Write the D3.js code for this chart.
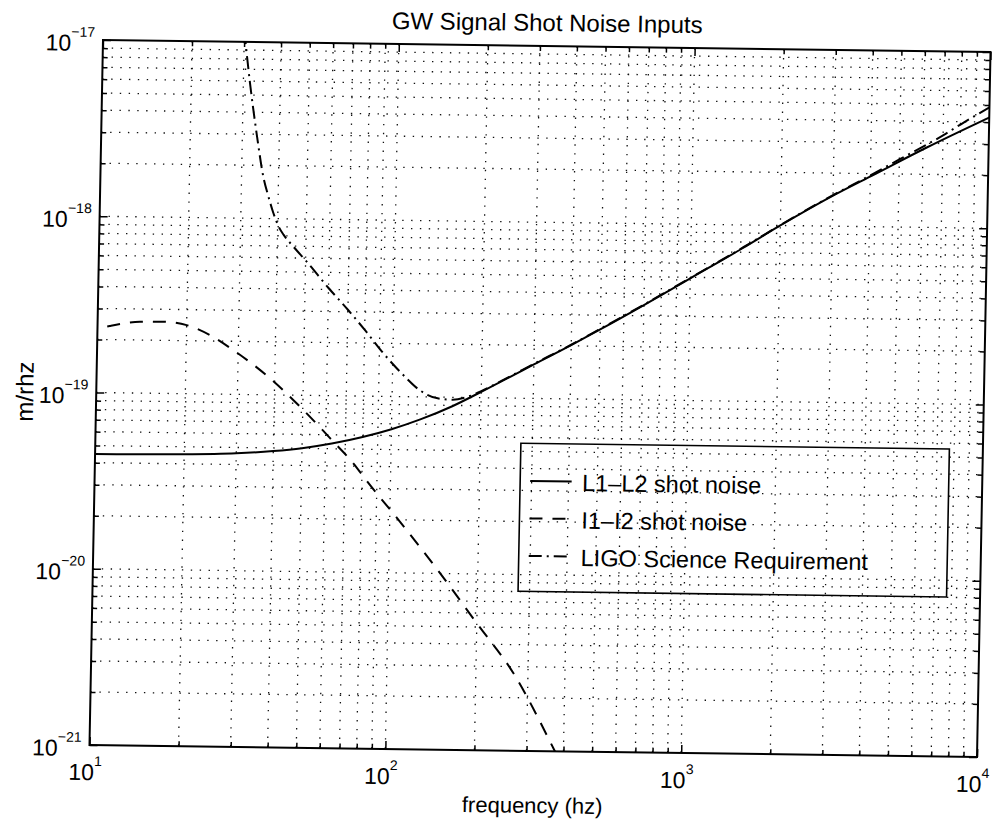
<!DOCTYPE html>
<html>
<head>
<meta charset="utf-8">
<title>GW Signal Shot Noise Inputs</title>
<script src="https://cdn.jsdelivr.net/npm/d3@7"></script>
<style>
  html, body { margin: 0; padding: 0; background: #fff; }
  svg text { font-family: "Liberation Sans", Arial, Helvetica, sans-serif; fill: #000; }
</style>
</head>
<body>
<svg id="chart" width="994" height="826"></svg>
<script>
// ---- data -------------------------------------------------------------
// L1-L2 shot noise (m/rHz) vs frequency (Hz)
const freqL1L2 = [10, 20, 30, 40, 50, 63, 80, 100, 125, 160, 200, 250, 300, 400, 500, 700, 1000, 1500, 2000, 3000, 4100, 6200, 10000];
const shotL1L2 = [4.48e-20, 4.53e-20, 4.63e-20, 4.80e-20, 5.01e-20, 5.35e-20, 5.86e-20, 6.52e-20, 7.45e-20, 8.9e-20,
                  1.08e-19, 1.32e-19, 1.56e-19, 2.02e-19, 2.49e-19, 3.45e-19, 4.93e-19, 7.4e-19, 1.0e-18, 1.49e-18,
                  1.97e-18, 2.85e-18, 4.25e-18];

// I1-I2 shot noise
const freqI1I2 = [10, 11, 13.9, 16.7, 20, 24, 28.9, 38.6, 50.2, 63.8, 74.7, 83.2, 108.4, 149.3, 200, 268, 375, 400];
const shotI1I2 = [2.30e-19, 2.39e-19, 2.54e-19, 2.55e-19, 2.45e-19, 2.16e-19, 1.78e-19, 1.24e-19, 8.26e-20, 5.48e-20,
                  4.15e-20, 3.3e-20, 1.95e-20, 1.0e-20, 5.25e-21, 2.75e-21, 9.95e-22, 8.1e-22];

// LIGO science requirement
const freqReq = [30, 31.6, 33.6, 35.6, 37, 38.6, 40.5, 42, 45.4, 51, 60, 70, 81, 93, 107.6, 124, 142.6, 160, 177, 200,
                 250, 300, 400, 500, 700, 1000, 1500, 2000, 3000, 4100, 5000, 6200, 7000, 8200, 10000];
const ligoReq = [1.15e-17, 5.83e-18, 2.95e-18, 1.7e-18, 1.35e-18, 1.08e-18, 8.9e-19, 8.1e-19, 6.95e-19, 5.61e-19,
                 4.08e-19, 3.08e-19, 2.32e-19, 1.75e-19, 1.35e-19, 1.09e-19, 9.84e-20, 9.69e-20, 1.0e-19, 1.09e-19,
                 1.33e-19, 1.57e-19, 2.03e-19, 2.51e-19, 3.47e-19, 4.96e-19, 7.45e-19, 1.005e-18, 1.5e-18, 2.0e-18,
                 2.42e-18, 2.96e-18, 3.34e-18, 3.96e-18, 4.85e-18];

// axis decades (exponents) and labels
const xTickExps = [1, 2, 3, 4];
const yTickExps = [-17, -18, -19, -20, -21];
const legendLabels = ["L1\u2013L2 shot noise", "I1\u2013I2 shot noise", "LIGO Science Requirement"];

// ---- layout -----------------------------------------------------------
const plotLeft = 103, plotTop = 40, plotW = 887.5, plotH = 705;
const svg = d3.select("#chart");

// the printed page sits slightly skewed on the sheet
const page = svg.append("g")
  .attr("transform", "matrix(1,0.01352,-0.01915,1,0.766,-1.393)");

const x = d3.scaleLog().domain([1e1, 1e4]).range([plotLeft, plotLeft + plotW]);
const y = d3.scaleLog().domain([1e-21, 1e-17]).range([plotTop + plotH, plotTop]);

const allX = x.ticks();            // 10,20,...,90,100,...,10000
const allY = y.ticks();
const isPow10 = v => Math.abs(Math.log10(v) - Math.round(Math.log10(v))) < 1e-9;
const majorX = allX.filter(isPow10), minorX = allX.filter(v => !isPow10(v));
const majorY = allY.filter(isPow10), minorY = allY.filter(v => !isPow10(v));

// ---- grid -------------------------------------------------------------
const grid = page.append("g")
  .attr("stroke", "#111").attr("stroke-width", 1.3)
  .attr("stroke-dasharray", "1.4,7.5").attr("fill", "none");

grid.selectAll("line.gx").data(allX.filter(v => v > 10 * 1.0001 && v < 1e4 * 0.9999)).join("line")
  .attr("class", "gx")
  .attr("x1", d => x(d)).attr("x2", d => x(d))
  .attr("y1", plotTop).attr("y2", plotTop + plotH);

grid.selectAll("line.gy").data(allY.filter(v => v > 1e-21 * 1.0001 && v < 1e-17 * 0.9999)).join("line")
  .attr("class", "gy")
  .attr("y1", d => y(d)).attr("y2", d => y(d))
  .attr("x1", plotLeft).attr("x2", plotLeft + plotW);

// ---- ticks (inward, all four sides) -----------------------------------
function tickLayer(axis, tx, ty) {
  const gAx = page.append("g").attr("transform", `translate(${tx},${ty})`).call(axis);
  gAx.select(".domain").remove();
  gAx.selectAll(".tick line").attr("stroke", "#000").attr("stroke-width", 1.5);
}
const majLen = 8, minLen = 5;
tickLayer(d3.axisBottom(x).tickValues(majorX).tickSize(-majLen).tickFormat(""), 0, plotTop + plotH);
tickLayer(d3.axisBottom(x).tickValues(minorX).tickSize(-minLen).tickFormat(""), 0, plotTop + plotH);
tickLayer(d3.axisTop(x).tickValues(majorX).tickSize(-majLen).tickFormat(""), 0, plotTop);
tickLayer(d3.axisTop(x).tickValues(minorX).tickSize(-minLen).tickFormat(""), 0, plotTop);
tickLayer(d3.axisLeft(y).tickValues(majorY).tickSize(-majLen).tickFormat(""), plotLeft, 0);
tickLayer(d3.axisLeft(y).tickValues(minorY).tickSize(-minLen).tickFormat(""), plotLeft, 0);
tickLayer(d3.axisRight(y).tickValues(majorY).tickSize(-majLen).tickFormat(""), plotLeft + plotW, 0);
tickLayer(d3.axisRight(y).tickValues(minorY).tickSize(-minLen).tickFormat(""), plotLeft + plotW, 0);

// ---- curves -----------------------------------------------------------
page.append("clipPath").attr("id", "plotClip")
  .append("rect").attr("x", plotLeft).attr("y", plotTop).attr("width", plotW).attr("height", plotH);

const line = d3.line().x(d => x(d[0])).y(d => y(d[1])).curve(d3.curveMonotoneX);
const zip = (fs, vs) => fs.map((f, i) => [f, vs[i]]);

const styles = [
  { data: zip(freqL1L2, shotL1L2), dash: null, offset: 0 },
  { data: zip(freqI1I2, shotI1I2), dash: "13,10", offset: 13 },
  { data: zip(freqReq, ligoReq), dash: "13,5,2,5", offset: 0 }
];

const curves = page.append("g").attr("clip-path", "url(#plotClip)");
styles.forEach(s => {
  curves.append("path").datum(s.data)
    .attr("d", line)
    .attr("fill", "none").attr("stroke", "#000").attr("stroke-width", 2)
    .attr("stroke-dasharray", s.dash).attr("stroke-dashoffset", s.offset);
});

// ---- frame ------------------------------------------------------------
page.append("rect")
  .attr("x", plotLeft).attr("y", plotTop).attr("width", plotW).attr("height", plotH)
  .attr("fill", "none").attr("stroke", "#000").attr("stroke-width", 2);

// ---- tick labels ------------------------------------------------------
xTickExps.forEach(e => {
  const t = page.append("text")
    .attr("x", x(Math.pow(10, e)) - 4).attr("y", plotTop + plotH + 35)
    .attr("text-anchor", "middle").style("font-size", "23px");
  t.append("tspan").text("10");
  t.append("tspan").attr("dy", -14).style("font-size", "14px").text(e);
});

yTickExps.forEach(e => {
  const t = page.append("text")
    .attr("x", plotLeft - 8).attr("y", y(Math.pow(10, e)) + 11)
    .attr("text-anchor", "end").style("font-size", "23px");
  t.append("tspan").text("10");
  t.append("tspan").attr("dy", -14).style("font-size", "14px").text("\u2212" + Math.abs(e));
});

// ---- titles -----------------------------------------------------------
page.append("text")
  .attr("x", plotLeft + plotW / 2).attr("y", plotTop - 15)
  .attr("text-anchor", "middle").style("font-size", "24px")
  .text("GW Signal Shot Noise Inputs");

page.append("text")
  .attr("x", plotLeft + plotW / 2).attr("y", plotTop + plotH + 62)
  .attr("text-anchor", "middle").style("font-size", "22px")
  .text("frequency (hz)");

page.append("text")
  .attr("transform", `translate(40,${plotTop + plotH / 2}) rotate(-90)`)
  .attr("text-anchor", "middle").style("font-size", "24px")
  .text("m/rhz");

// ---- legend -----------------------------------------------------------
const lgX = 528.5, lgY = 437.5, lgW = 428.5, lgH = 148;
const legend = page.append("g");
legend.append("rect")
  .attr("x", lgX).attr("y", lgY).attr("width", lgW).attr("height", lgH)
  .attr("fill", "none").attr("stroke", "#000").attr("stroke-width", 1.6);

legendLabels.forEach((label, i) => {
  const ly = lgY + 37.5 + i * 37.5;
  legend.append("line")
    .attr("x1", lgX + 10).attr("x2", lgX + 51.5).attr("y1", ly).attr("y2", ly)
    .attr("stroke", "#000").attr("stroke-width", 2)
    .attr("stroke-dasharray", styles[i].dash);
  legend.append("text")
    .attr("x", lgX + 62).attr("y", ly + 9.5)
    .style("font-size", "23.5px")
    .text(label);
});
</script>
</body>
</html>
